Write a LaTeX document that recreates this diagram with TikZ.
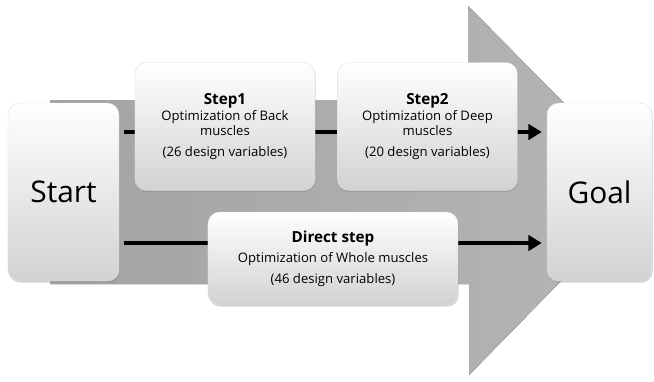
\documentclass[tikz,border=0pt]{standalone}
\usepackage{fontspec}
\setmainfont{Open Sans}
\definecolor{cinzaSeta}{RGB}{163,163,163}
\definecolor{cinzaClaro}{RGB}{182,182,182}
\definecolor{cinzaCaixa}{RGB}{210,210,210}
\usepackage{tikz}
\usetikzlibrary{arrows.meta,positioning,calc,shadows,backgrounds}
\newcommand{\titulo}[1]{{\fontsize{13}{15}\selectfont\bfseries #1}}
\tikzset{
  caixa/.style={rectangle, draw=black!12, thin, top color=white, bottom color=cinzaCaixa,
                rounded corners=10pt, minimum width=5.4cm, minimum height=3.84cm,
                align=center, font=\fontsize{11.2}{13}\selectfont,
                drop shadow={opacity=0.35, shadow xshift=0.6pt, shadow yshift=-1.4pt}},
  extremo/.style={caixa, minimum width=3.33cm, minimum height=5.34cm,
                  font=\fontsize{25.5}{29}\selectfont},
  seta/.style={-{Triangle[length=4mm, width=4.6mm]}, line width=3.2pt, black,
               shorten <=0.15cm, shorten >=0.15cm},
}
\begin{document}
\begin{tikzpicture}[x=0.03cm, y=-0.03cm]
  \useasboundingbox (0,0) rectangle (654,381);
  \node[extremo] (start) at (63.5,192) {Start};
  \node[extremo, minimum width=3.15cm] (goal) at (599.5,192) {Goal};
  \node[caixa] (passo1) at (225,126.5)
    {\titulo{Step1}\\[1pt]Optimization of Back\\muscles\\[5pt](26 design variables)};
  \node[caixa, right=0.66cm of passo1] (passo2)
    {\titulo{Step2}\\[1pt]Optimization of Deep\\muscles\\[5pt](20 design variables)};
  \node[caixa, minimum width=7.5cm, minimum height=2.79cm] (direto) at (333,258.5)
    {\titulo{Direct step}\\[4pt]Optimization of Whole muscles\\[5pt](46 design variables)};
  \begin{scope}[on background layer]
    % seta larga ao fundo
    \fill[left color=cinzaSeta, right color=cinzaClaro]
      (50,100) -- (468,100) -- (468,6) -- (650,190) -- (469,375) -- (469,284) -- (50,284) -- cycle;
    \draw[seta] ($(start.east |- passo1.west)+(0,5.5)$) -- ($(goal.west |- passo1.west)+(0,5.5)$);
    \draw[seta] ($(start.east |- direto.west)+(0,-15.5)$) -- ($(goal.west |- direto.west)+(0,-15.5)$);
  \end{scope}
\end{tikzpicture}
\end{document}
